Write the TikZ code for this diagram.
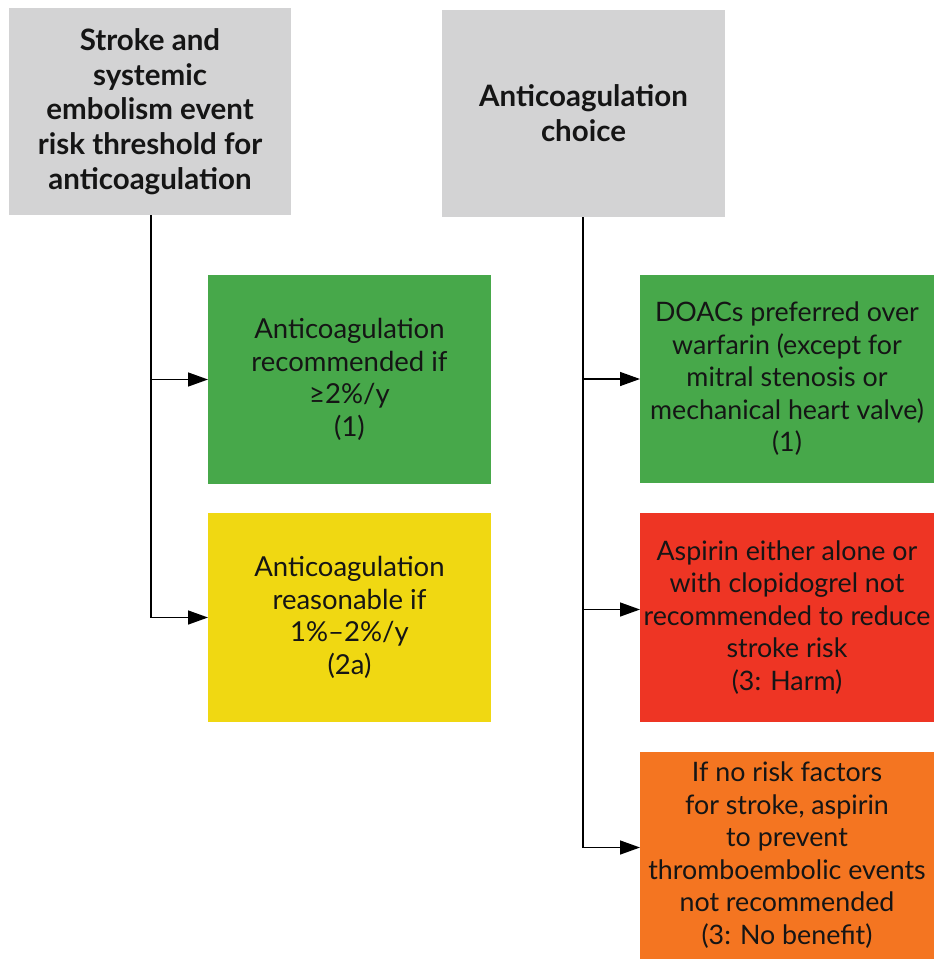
\documentclass[tikz,border=0pt]{standalone}
\usepackage{fontspec}
\setmainfont{Lato}
\usetikzlibrary{arrows.meta}
\definecolor{boxgray}{HTML}{D3D3D4}
\definecolor{boxgreen}{HTML}{47A84A}
\definecolor{boxyellow}{HTML}{F0D812}
\definecolor{boxred}{HTML}{EE3524}
\definecolor{boxorange}{HTML}{F47521}
\definecolor{txt}{HTML}{151515}
\begin{document}
\begin{tikzpicture}[x=1pt,y=-1pt,
  every node/.style={inner sep=0pt, outer sep=0pt, align=center, text=txt},
  titlebox/.style={fill=boxgray, font=\bfseries\fontsize{29.5}{34.8}\selectfont},
  bodybox/.style={font=\fontsize{27.5}{32.5}\selectfont},
  rbodybox/.style={font=\fontsize{26.8}{32.5}\selectfont},
  conn/.style={draw=black, line width=1.4pt},
  arr/.style={conn, -{Triangle[length=20pt,width=14pt]}}]
\useasboundingbox (0,0) rectangle (934,959);
\fill[white] (0,0) rectangle (934,959);
\begin{scope}
\clip (0,0) rectangle (934,959);
% titles
\node[titlebox, minimum width=282pt, minimum height=207pt] (t1) at (150,111.5)
  {Stroke and\\systemic\\embolism event\\risk threshold for\\anticoagulation};
\node[titlebox, minimum width=283pt, minimum height=207pt] (t2) at (583.5,113.5)
  {Anticoagulation\\choice};
% left boxes
\node[bodybox, fill=boxgreen, minimum width=283pt, minimum height=209pt] (g1) at (349.5,379.5)
  {Anticoagulation\\recommended if\\≥2\%/y\\(1)};
\node[bodybox, fill=boxyellow, minimum width=283pt, minimum height=209pt] (y1) at (349.5,617.5)
  {Anticoagulation\\reasonable if\\1\%–2\%/y\\(2a)};
% right boxes (run past the right edge, as in the reference)
\fill[boxgreen] (640,275) rectangle (950,483);
\fill[boxred] (640,513) rectangle (950,722);
\fill[boxorange] (640,752) rectangle (950,964);
\end{scope}
\node[rbodybox, minimum width=294pt, minimum height=208pt] (g2) at (787,379)
  {DOACs preferred over\\warfarin (except for\\mitral stenosis or\\mechanical heart valve)\\(1)};
\node[rbodybox, minimum width=294pt, minimum height=209pt] (r2) at (787,617.5)
  {Aspirin either alone or\\with clopidogrel not\\recommended to reduce\\stroke risk\\(3: Harm)};
\node[rbodybox, minimum width=294pt, minimum height=200pt] (o2) at (787,855)
  {If no risk factors\\for stroke, aspirin\\to prevent\\thromboembolic events\\not recommended\\(3: No benefit)};
% connectors
\coordinate (lx) at ([xshift=1pt]t1.south);
\coordinate (rx) at ([xshift=-0.5pt]t2.south);
\coordinate (r2in) at ([yshift=8pt]r2.west);
\coordinate (o2in) at ([yshift=7.5pt]o2.west);
\draw[conn] (lx) -- (lx |- y1.west);
\draw[arr] (lx |- g1.west) -- (g1.west);
\draw[arr] (lx |- y1.west) -- (y1.west);
\draw[conn] (rx) -- (rx |- o2in);
\draw[arr] (rx |- g2.west) -- (g2.west);
\draw[arr] (rx |- r2in) -- (r2in);
\draw[arr] (rx |- o2in) -- (o2in);
\end{tikzpicture}
\end{document}
